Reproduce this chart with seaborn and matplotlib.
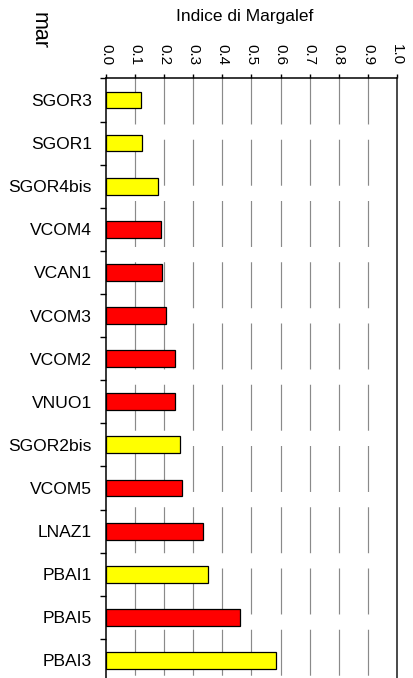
import numpy as np
import pandas as pd
import matplotlib
matplotlib.use("Agg")
import matplotlib.pyplot as plt
import seaborn as sns

# ── Data ──────────────────────────────────────────────────────
stazioni = ['SGOR3', 'SGOR1', 'SGOR4bis', 'VCOM4', 'VCAN1', 'VCOM3', 'VCOM2',
            'VNUO1', 'SGOR2bis', 'VCOM5', 'LNAZ1', 'PBAI1', 'PBAI5', 'PBAI3']
margalef = [0.120, 0.125, 0.179, 0.188, 0.191, 0.207, 0.236,
            0.236, 0.254, 0.260, 0.332, 0.351, 0.462, 0.585]
gruppo = ['A', 'A', 'A', 'B', 'B', 'B', 'B',
          'B', 'A', 'B', 'B', 'A', 'B', 'A']
x_ticks = [0.0, 0.1, 0.2, 0.3, 0.4, 0.5, 0.6, 0.7, 0.8, 0.9, 1.0]

df = pd.DataFrame({'stazione': stazioni, 'indice': margalef, 'gruppo': gruppo})

# ── Style ─────────────────────────────────────────────────────
sns.set_style("white")
plt.rcParams['font.family'] = ['Liberation Sans', 'DejaVu Sans']
plt.rcParams['lines.scale_dashes'] = False
plt.rcParams['text.color'] = 'black'
plt.rcParams['xtick.color'] = 'black'
plt.rcParams['ytick.color'] = 'black'

W, H = 414, 678
fig = plt.figure(figsize=(W / 100, H / 100), dpi=100)
ax = fig.add_axes([106 / W, 1 - 682 / H, (397 - 106) / W, (682 - 78.4) / H])

# gridlines, dashed from the top
ax.vlines(x_ticks[1:-1], -0.5, len(stazioni) - 0.5,
          colors='#8a8a8a', linewidth=0.85,
          linestyles=[(0, (33.1, 11.0))], zorder=0.5)

sns.barplot(
    data       = df,
    y          = 'stazione',
    x          = 'indice',
    hue        = 'gruppo',
    palette    = {'A': '#FFFF00', 'B': '#FF0000'},
    saturation = 1,
    orient     = 'h',
    width      = 0.39,
    dodge      = False,
    edgecolor  = 'black',
    linewidth  = 0.9,
    legend     = False,
    ax         = ax
)

ax.set_xlim(0, 1.0)
ax.set_ylim(len(stazioni) - 0.5, -0.5)
ax.set_xlabel("")
ax.set_ylabel("")

# x axis on top, labels rotated
ax.xaxis.tick_top()
ax.set_xticks(x_ticks)
ax.set_xticklabels([f"{v:.1f}" for v in x_ticks], rotation=-90, fontsize=11)
ax.tick_params(axis='x', direction='out', length=3, width=1, pad=6.8,
               color='black', labelcolor='black')

# y ticks at category boundaries, labels in the middle
ax.set_yticks(np.arange(-0.5, len(stazioni), 1.0))
ax.set_yticklabels([])
ax.set_yticks(np.arange(len(stazioni)), minor=True)
ax.set_yticklabels(stazioni, minor=True, fontsize=12.6)
ax.tick_params(axis='y', which='major', direction='out', length=4.3, width=1, color='black')
ax.tick_params(axis='y', which='minor', length=0, pad=10.3, labelcolor='black')
ax.tick_params(left=True, top=True, bottom=False)

for side in ['top', 'left']:
    ax.spines[side].set_color('black')
    ax.spines[side].set_linewidth(1.1)
ax.spines['right'].set_color('#3a3a3a')
ax.spines['right'].set_linewidth(1.3)
ax.spines['bottom'].set_visible(False)

fig.text(244.7 / W, 1 - 16 / H, "Indice di Margalef",
         ha='center', va='center', fontsize=12.5, color='black')
fig.text(39 / W, 1 - 31 / H, "mar", rotation=-90,
         ha='center', va='center', fontsize=15.5, color='black')

plt.savefig("out.png", dpi=100)
plt.close()
